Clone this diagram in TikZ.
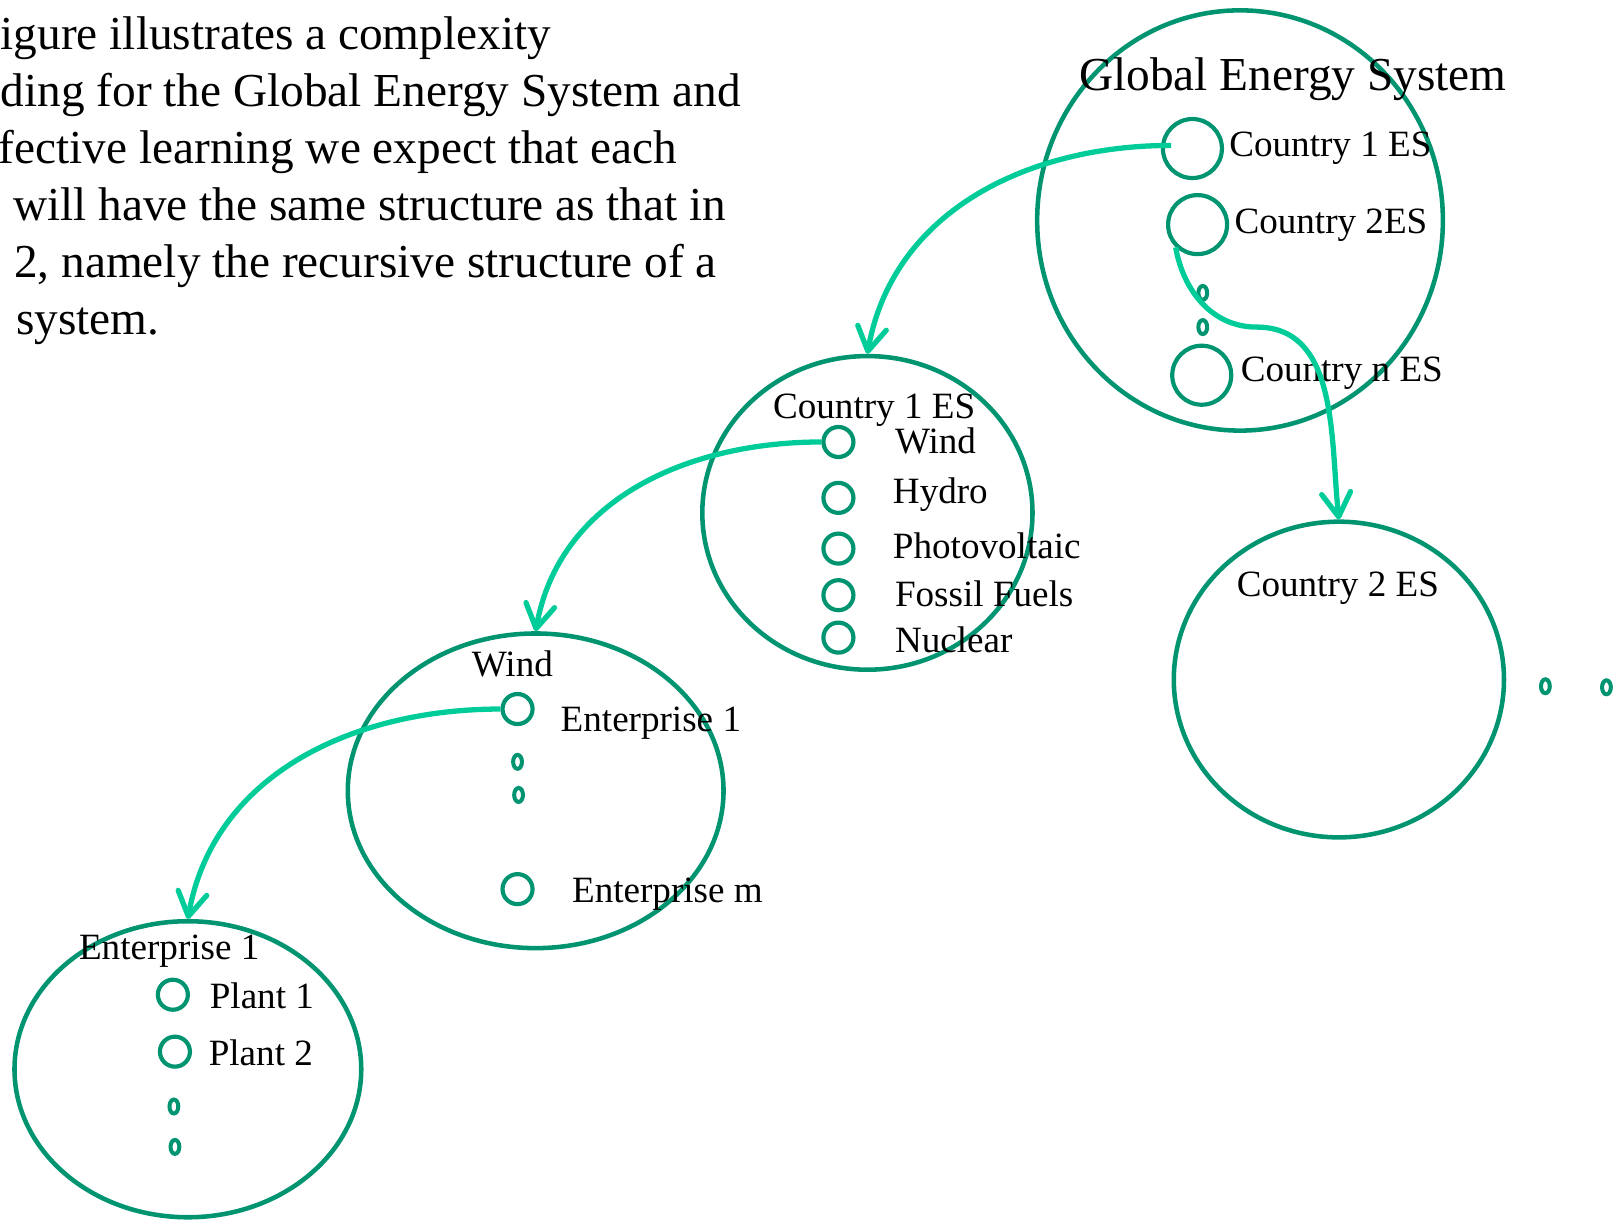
\documentclass[tikz,border=0pt]{standalone}
\usepackage{fontspec}
\setmainfont{Liberation Serif}
\usepackage{tikz}
\usetikzlibrary{arrows.meta,positioning,shapes.geometric}
\definecolor{esgreen}{RGB}{0,148,112}
\definecolor{flowgreen}{RGB}{0,204,153}

\begin{document}
\begin{tikzpicture}[
    font=\fontsize{10.2}{12}\selectfont,
    flow/.style={draw=flowgreen, line width=1.45pt,
        -{Straight Barb[length=2.3mm,width=2.8mm,round]}},
    system/.style={
        draw=esgreen,
        line width=1.25pt,
        ellipse,
        inner sep=0pt
    },
    member/.style={
        draw=esgreen,
        line width=1.15pt,
        circle,
        inner sep=0pt,
        minimum size=0.29cm
    },
    bigmember/.style={member, minimum size=0.57cm},
    gapdot/.style={
        draw=esgreen,
        line width=1.1pt,
        ellipse,
        inner sep=0pt,
        minimum width=0.085cm,
        minimum height=0.135cm
    },
    tag/.style={anchor=base west, inner sep=0pt},
    systitle/.style={anchor=base, inner sep=0pt},
    para/.style={anchor=base west, inner sep=0pt, font=\fontsize{13}{15.6}\selectfont}
]

% Stable crop.
\path[use as bounding box] (0,0) rectangle (15.68,-11.81);

% --------------------------------------------------
% Paragraph (cut at the left edge)
% --------------------------------------------------
\node[para] (line1) at (0.00,-0.48) {igure illustrates a complexity};
\node[para] (line2) at (0.00,-1.03) {ding for the Global Energy System and};
\node[para] (line3) at (-0.02,-1.58) {fective learning we expect that each};
\node[para] (line4) at (0.12,-2.13) {will have the same structure as that in};
\node[para] (line5) at (0.13,-2.68) {2, namely the recursive structure of a};
\node[para] (line6) at (0.15,-3.23) {system.};

% --------------------------------------------------
% Energy systems
% --------------------------------------------------
\node[system, minimum width=3.92cm, minimum height=4.06cm] (global) at (11.98,-2.13) {};
\node[system, minimum width=3.19cm, minimum height=3.03cm] (cty1) at (8.38,-4.955) {};
\node[system, minimum width=3.63cm, minimum height=3.04cm] (wind) at (5.175,-7.64) {};
\node[system, minimum width=3.35cm, minimum height=2.86cm] (ent1) at (1.815,-10.33) {};
\node[system, minimum width=3.19cm, minimum height=3.05cm] (cty2) at (12.935,-6.565) {};

\node[systitle, font=\fontsize{13}{15.6}\selectfont] at (12.49,-0.87) {Global Energy System};
\node[systitle] at (8.445,-4.04) {Country 1 ES};
\node[systitle] at (4.95,-6.54) {Wind};
\node[systitle] at (1.635,-9.27) {Enterprise 1};
\node[systitle] at (12.925,-5.76) {Country 2 ES};

% --------------------------------------------------
% Members of the global system
% --------------------------------------------------
\node[bigmember] (g_c1) at (11.52,-1.435) {};
\node[bigmember] (g_c2) at (11.57,-2.17) {};
\node[gapdot] (g_d1) at (11.62,-2.83) {};
\node[gapdot] (g_d2) at (11.62,-3.16) {};
\node[bigmember] (g_cn) at (11.61,-3.625) {};

\node[tag] at (11.87,-1.51) {Country 1 ES};
\node[tag] at (11.92,-2.26) {Country 2ES};
\node[tag] at (11.98,-3.69) {Country n ES};

% --------------------------------------------------
% Members of country 1
% --------------------------------------------------
\node[member] (c1_wind)    at (8.10,-4.27) {};
\node[member] (c1_hydro)   at (8.10,-4.81) {};
\node[member] (c1_pv)      at (8.10,-5.30) {};
\node[member] (c1_fossil)  at (8.10,-5.75) {};
\node[member] (c1_nuclear) at (8.10,-6.16) {};

\node[tag] at (8.64,-4.38) {Wind};
\node[tag] at (8.62,-4.86) {Hydro};
\node[tag] at (8.62,-5.40) {Photovoltaic};
\node[tag] at (8.64,-5.86) {Fossil Fuels};
\node[tag] at (8.64,-6.30) {Nuclear};

% --------------------------------------------------
% Members of wind
% --------------------------------------------------
\node[member] (w_e1) at (5.00,-6.85) {};
\node[gapdot] (w_d1) at (5.00,-7.36) {};
\node[gapdot] (w_d2) at (5.01,-7.68) {};
\node[member] (w_em) at (5.00,-8.59) {};

\node[tag] at (5.41,-7.07) {Enterprise 1};
\node[tag] at (5.52,-8.72) {Enterprise m};

% --------------------------------------------------
% Members of enterprise 1
% --------------------------------------------------
\node[member] (e_p1) at (1.67,-9.61) {};
\node[member] (e_p2) at (1.69,-10.16) {};
\node[gapdot] (e_d1) at (1.68,-10.69) {};
\node[gapdot] (e_d2) at (1.69,-11.08) {};

\node[tag] at (2.02,-9.74) {Plant 1};
\node[tag] at (2.01,-10.29) {Plant 2};

% More countries to the right.
\node[gapdot] (more_d1) at (14.93,-6.63) {};
\node[gapdot] (more_d2) at (15.52,-6.64) {};

% --------------------------------------------------
% Refinement arrows
% --------------------------------------------------
\coordinate (c2bend) at (12.14,-3.16);

\draw[flow] ([xshift=0.1cm,yshift=0.03cm]g_c1.west) to[out=180,in=80] (cty1.north);
\draw[flow] (c1_wind.west) to[out=180,in=80] (wind.north);
\draw[flow] (w_e1.west) to[out=180,in=80] (ent1.north);
\draw[flow] (g_c2.226) to[out=-80,in=180] (c2bend) to[out=0,in=96] (cty2.north);

\end{tikzpicture}
\end{document}
